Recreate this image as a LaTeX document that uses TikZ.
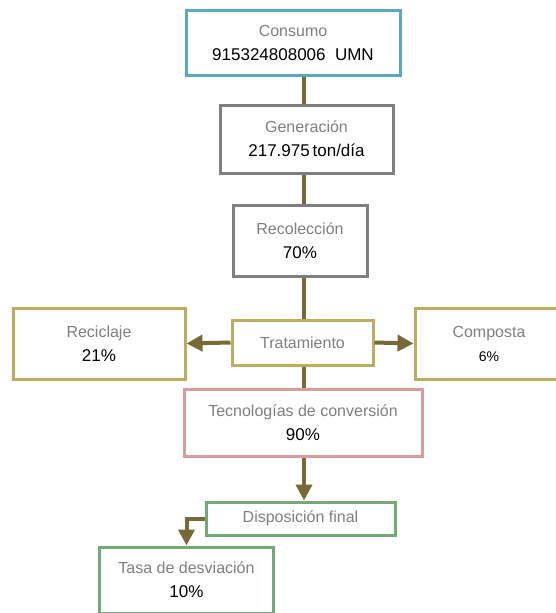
\documentclass[tikz,border=0pt]{standalone}
\usepackage{fontspec}
\setmainfont{Liberation Sans}
\usetikzlibrary{arrows.meta}
\definecolor{flow}{HTML}{786A37}
\definecolor{teal}{HTML}{5BA7BB}
\definecolor{graybox}{HTML}{7F7F7F}
\definecolor{khaki}{HTML}{BDAD60}
\definecolor{rose}{HTML}{DD9A9A}
\definecolor{sage}{HTML}{73A877}
\definecolor{title}{HTML}{7F7F7F}
\tikzset{
  box/.style={draw, line width=3pt, fill=white, align=center, inner sep=0pt,
    font=\fontsize{16}{24}\selectfont},
  link/.style={draw=flow, line width=4pt},
  arrowlink/.style={link, -{Triangle[width=16pt,length=16pt]}},
}
\newcommand{\ttl}[1]{\textcolor{title}{#1}}
\newcommand{\val}[1]{{\fontsize{17}{24}\selectfont #1}}
\begin{document}
\begin{tikzpicture}[x=1pt,y=-1pt]
\useasboundingbox[fill=white] (0,0) rectangle (555,613);
\coordinate (sp) at (304,0);

\node[box, draw=teal, minimum width=214pt, minimum height=65pt] (consumo) at (293,42.5)
  {\ttl{Consumo}\\\val{915324808006\ \ UMN}};
\node[box, draw=graybox, minimum width=173pt, minimum height=68pt] (gen) at (306.5,139)
  {\ttl{Generación}\\\val{217.975\,ton/día}};
\node[box, draw=graybox, minimum width=134pt, minimum height=71pt] (reco) at (300,240.5)
  {\ttl{Recolección}\\\val{70\%}};
\node[box, draw=khaki, minimum width=141pt, minimum height=45pt] (trat) at (302.5,342.5)
  {\ttl{Tratamiento}};
\node[box, draw=khaki, minimum width=172pt, minimum height=71pt] (recic) at (99,343.5)
  {\ttl{Reciclaje}\\\val{21\%}};
\node[box, draw=khaki, minimum width=148pt, minimum height=71pt] (comp) at (489,343.5)
  {\ttl{Composta}\\{\fontsize{14}{24}\selectfont 6\%}};
\node[box, draw=rose, minimum width=238pt, minimum height=67pt] (tec) at (303,422.5)
  {\ttl{Tecnologías de conversión}\\\val{90\%}};
\node[box, draw=sage, minimum width=189pt, minimum height=33pt] (disp) at (300.5,518.5)
  {\ttl{Disposición final}};
\node[box, draw=sage, minimum width=174pt, minimum height=66pt] (tasa) at (186.5,580)
  {\ttl{Tasa de desviación}\\\val{10\%}};

% main spine
\draw[link] (consumo.south -| sp) -- (gen.north -| sp);
\draw[link] (gen.south -| sp) -- (reco.north -| sp);
\draw[link] (reco.south -| sp) -- (trat.north -| sp);
\draw[link] (trat.south -| sp) -- (tec.north -| sp);
\draw[arrowlink] (tec.south -| sp) -- (disp.north -| sp);

% branches
\draw[arrowlink] (trat.west) -- (recic.east);
\draw[arrowlink] (trat.east) -- (comp.west);
\draw[arrowlink] (disp.west) -| (tasa.north);
\end{tikzpicture}
\end{document}
